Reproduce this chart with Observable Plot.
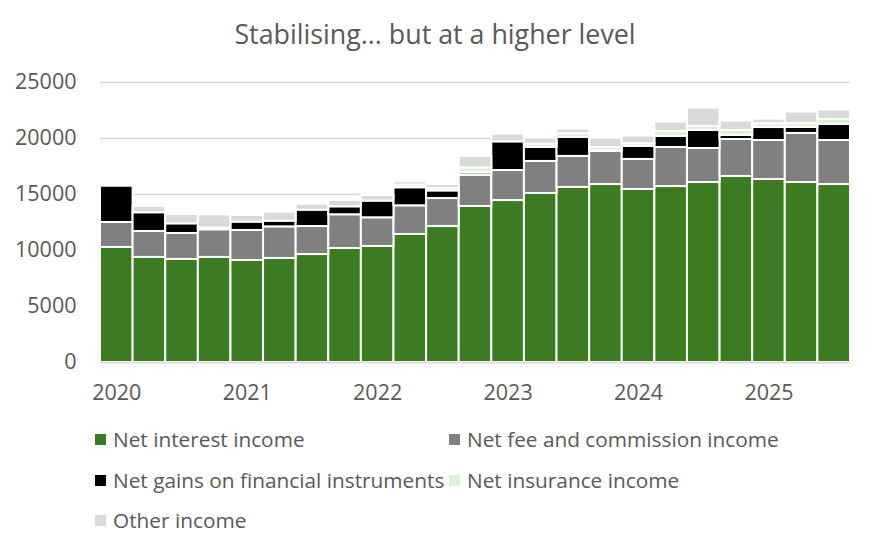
<!DOCTYPE html>
<html><head><meta charset="utf-8">
<script src="https://cdn.jsdelivr.net/npm/d3@7"></script>
<script src="https://cdn.jsdelivr.net/npm/@observablehq/plot@0.6"></script>
<style>
body{margin:0;background:#fff;}
#wrap{position:relative;width:878px;height:552px;font-family:"Open Sans",sans-serif;color:#595959;overflow:hidden;background:#fff}
#title{position:absolute;top:12px;left:0;width:870px;text-align:center;font-size:26.8px;line-height:44px;z-index:2}
#chart{position:absolute;top:0;left:0;z-index:1}
#legend{position:absolute;top:0;left:0;z-index:2}
.leg{position:absolute;font-size:20.8px;display:flex;align-items:center;white-space:nowrap;height:30px;line-height:30px}
.sw{width:11px;height:11px;margin-right:7px;flex:none}
</style></head><body>
<div id="wrap"><div id="chart"></div><div id="title">Stabilising... but at a higher level</div><div id="legend"></div></div>
<script>
const quarters = ["2020Q1","2020Q2","2020Q3","2020Q4","2021Q1","2021Q2","2021Q3","2021Q4","2022Q1","2022Q2","2022Q3","2022Q4","2023Q1","2023Q2","2023Q3","2023Q4","2024Q1","2024Q2","2024Q3","2024Q4","2025Q1","2025Q2","2025Q3"];
const seriesNames = ["Net interest income","Net fee and commission income","Net gains on financial instruments","Net insurance income","Other income"];
const seriesColors = ["#3d7b22","#808080","#000000","#daf2d0","#d9d9d9"];
const netInterest = [10270,9380,9200,9380,9110,9290,9640,10180,10360,11430,12140,13930,14460,15090,15630,15890,15450,15710,16070,16610,16340,16070,15890];
const netFee = [2230,2320,2320,2470,2680,2820,2500,3010,2560,2560,2500,2790,2680,2860,2770,2950,2680,3490,3040,3300,3480,4380,3930];
const netGains = [3240,1670,860,150,740,510,1460,710,1490,1610,680,215,2560,1250,1700,60,1160,980,1610,360,1160,540,1430];
const netInsurance = [0,0,0,0,0,0,0,0,0,240,210,445,0,300,330,300,240,450,360,450,330,330,450];
const otherIncome = [0,560,830,1175,595,805,535,565,505,300,355,1020,690,535,415,835,685,835,1640,835,415,1040,835];
const yTicks = [0,5000,10000,15000,20000,25000];
const xTickQuarters = ["2020Q1","2021Q1","2022Q1","2023Q1","2024Q1","2025Q1"];
const xTickLabels = ["2020","2021","2022","2023","2024","2025"];

const allSeries = [netInterest, netFee, netGains, netInsurance, otherIncome];
const rows = [];
allSeries.forEach((vals, si) => {
  vals.forEach((v, qi) => { if (v > 0) rows.push({quarter: quarters[qi], series: seriesNames[si], value: v}); });
});

const chart = Plot.plot({
  width: 878,
  height: 415,
  marginLeft: 100,
  marginRight: 28,
  marginTop: 82,
  marginBottom: 53,
  style: {fontFamily: '"Open Sans", sans-serif', color: "#595959", background: "transparent"},
  x: {domain: quarters, padding: 0, round: false, axis: null, label: null},
  y: {domain: [0, 25000], axis: null, label: null},
  color: {domain: seriesNames, range: seriesColors},
  marks: [
    Plot.gridY(yTicks, {stroke: "#d9d9d9", strokeOpacity: 1, strokeWidth: 1.3}),
    Plot.barY(rows, {x: "quarter", y: "value", fill: "series", stroke: "white", strokeWidth: 2, order: seriesNames}),
    Plot.ruleY([0], {stroke: "#d9d9d9", strokeWidth: 1.5}),
    Plot.axisY(yTicks, {tickSize: 0, tickPadding: 24, fontSize: 21.5, label: null, tickFormat: d => String(d)}),
    Plot.axisX(xTickQuarters, {tickSize: 0, tickPadding: 22, fontSize: 21.5, label: null, tickFormat: d => xTickLabels[xTickQuarters.indexOf(d)]})
  ]
});
document.getElementById("chart").appendChild(chart);

const legendPos = [[95,424],[449,424],[95,465],[449,465],[95,505]];
const legend = document.getElementById("legend");
seriesNames.forEach((name, i) => {
  const d = document.createElement("div");
  d.className = "leg";
  d.style.left = legendPos[i][0] + "px";
  d.style.top = legendPos[i][1] + "px";
  d.innerHTML = `<span class="sw" style="background:${seriesColors[i]}"></span><span>${name}</span>`;
  legend.appendChild(d);
});
</script>
</body></html>
